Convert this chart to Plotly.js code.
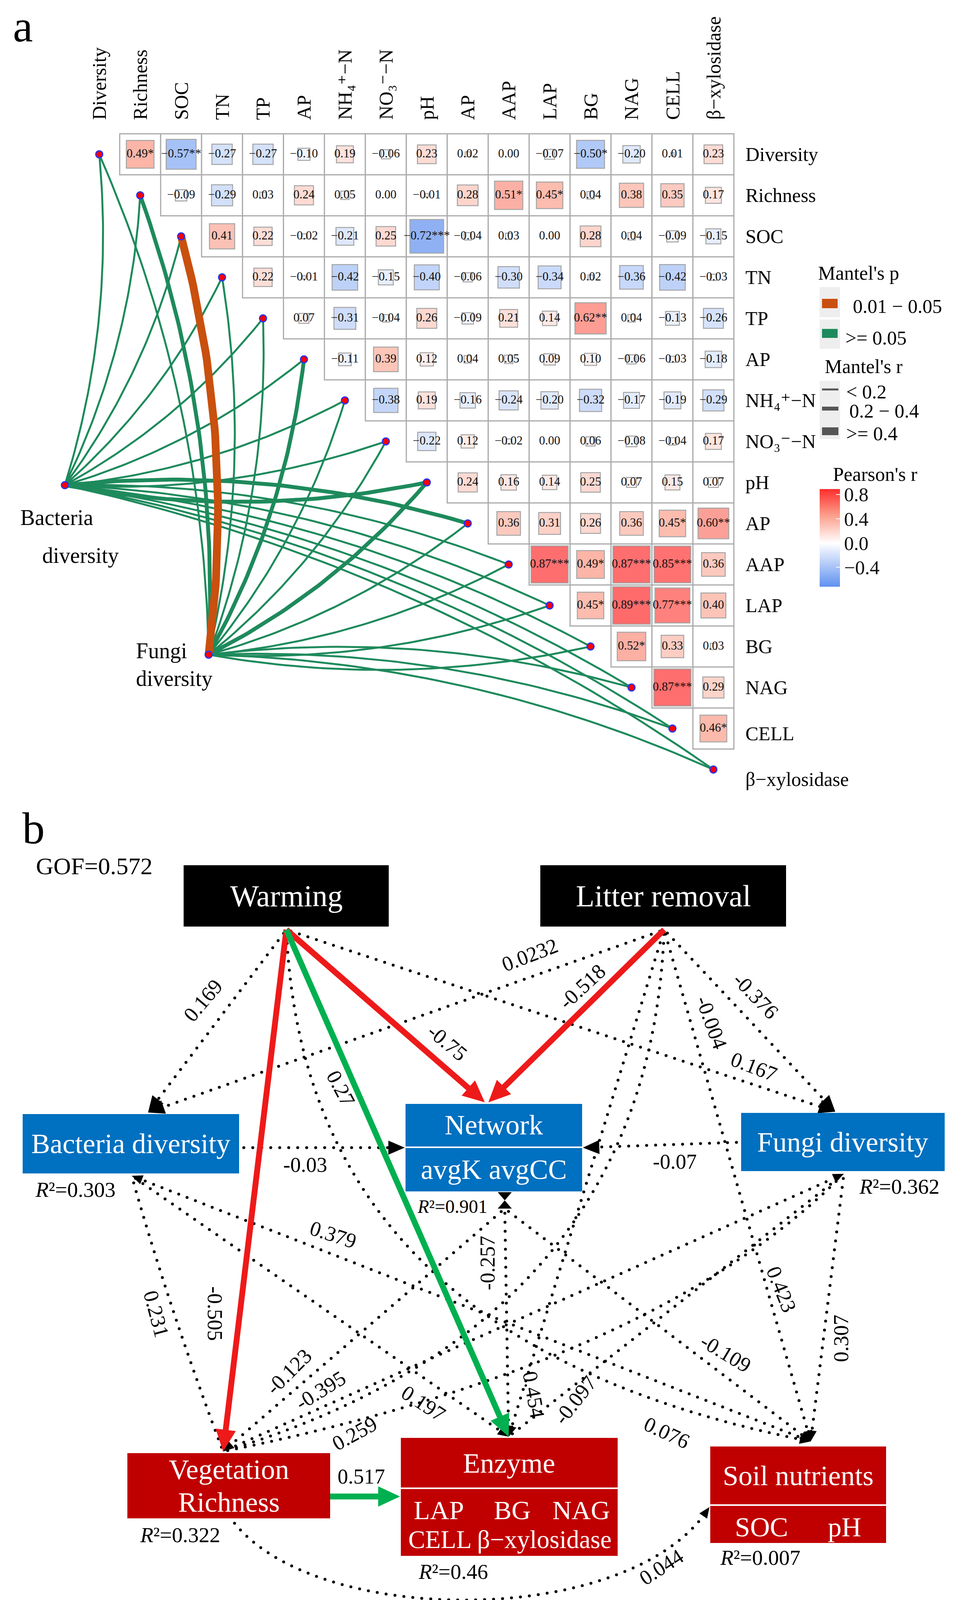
<!DOCTYPE html>
<html>
<head>
<meta charset="utf-8">
<script src="https://cdn.plot.ly/plotly-3.0.1.min.js"></script>
<style>html,body{margin:0;padding:0;background:#ffffff;}#chart{width:2447px;height:4146px;}</style>
</head>
<body>
<div id="chart"></div>
<script>
// ======================= DATA =======================
// (a) variables on the diagonal of the correlation triangle
const variables = ['Diversity','Richness','SOC','TN','TP','AP','NH₄⁺−N','NO₃⁻−N','pH','AP','AAP','LAP','BG','NAG','CELL','β−xylosidase'];
// Pearson's r, row j holds columns j+1 ... 15
const corrRows = [
  [0.49,-0.57,-0.27,-0.27,-0.10,0.19,-0.06,0.23,0.02,0.00,-0.07,-0.50,-0.20,0.01,0.23],
  [-0.09,-0.29,0.03,0.24,0.05,0.00,-0.01,0.28,0.51,0.45,0.04,0.38,0.35,0.17],
  [0.41,0.22,-0.02,-0.21,0.25,-0.72,-0.04,0.03,0.00,0.28,0.04,-0.09,-0.15],
  [0.22,-0.01,-0.42,-0.15,-0.40,-0.06,-0.30,-0.34,0.02,-0.36,-0.42,-0.03],
  [0.07,-0.31,-0.04,0.26,-0.09,0.21,0.14,0.62,0.04,-0.13,-0.26],
  [-0.11,0.39,0.12,0.04,0.05,0.09,0.10,-0.06,-0.03,-0.18],
  [-0.38,0.19,-0.16,-0.24,-0.20,-0.32,-0.17,-0.19,-0.29],
  [-0.22,0.12,-0.02,0.00,0.06,-0.08,-0.04,0.17],
  [0.24,0.16,0.14,0.25,0.07,0.15,0.07],
  [0.36,0.31,0.26,0.36,0.45,0.60],
  [0.87,0.49,0.87,0.85,0.36],
  [0.45,0.89,0.77,0.40],
  [0.52,0.33,0.03],
  [0.87,0.29],
  [0.46]
];
// number of significance stars for each value above
const sigRows = [
  [1,2,0,0,0,0,0,0,0,0,0,1,0,0,0],
  [0,0,0,0,0,0,0,0,1,1,0,0,0,0],
  [0,0,0,0,0,3,0,0,0,0,0,0,0],
  [0,0,0,0,0,0,0,0,0,0,0,0],
  [0,0,0,0,0,0,0,2,0,0,0],
  [0,0,0,0,0,0,0,0,0,0],
  [0,0,0,0,0,0,0,0,0],
  [0,0,0,0,0,0,0,0],
  [0,0,0,0,0,0,0],
  [0,0,0,0,1,2],
  [3,1,3,3,0],
  [1,3,3,0],
  [1,0,0],
  [3,0],
  [1]
];
// Mantel tests (class indices): r: 0 '< 0.2', 1 '0.2 - 0.4', 2 '>= 0.4'; p: 0 '0.01 - 0.05', 1 '>= 0.05'
const mantelSources = ['Bacteria diversity','Fungi diversity'];
const mantelRLabels = ['< 0.2','0.2 − 0.4','>= 0.4'];
const mantelPLabels = ['0.01 − 0.05','>= 0.05'];
const mantelBacteriaR = [0,0,0,0,0,0,0,0,1,1,0,0,0,0,0,0];
const mantelBacteriaP = [1,1,1,1,1,1,1,1,1,1,1,1,1,1,1,1];
const mantelFungiR    = [0,1,2,0,0,1,0,0,1,0,0,0,0,0,0,0];
const mantelFungiP    = [1,1,0,1,1,1,1,1,1,1,1,1,1,1,1,1];

// (b) structural equation model
const semNodes = ['Warming','Litter removal','Bacteria diversity','Network','Fungi diversity','Vegetation Richness','Enzyme','Soil nutrients'];
const semR2 = [null,null,0.303,0.901,0.362,0.322,0.46,0.007];
const GOF = 0.572;
const pathCoef = [-0.75,-0.518,0.27,-0.505,0.517,0.169,0.0232,0.167,-0.376,-0.03,-0.07,-0.257,0.231,0.379,0.197,0.076,0.423,0.454,-0.004,0.307,-0.395,0.259,-0.097,-0.123,-0.109,0.044];
const pathSig  = [1,1,1,1,1,0,0,0,0,0,0,0,0,0,0,0,0,0,0,0,0,0,0,0,0,0];

// ======================= STYLE / LAYOUT =======================
const FONT = '"Liberation Serif","Times New Roman","DejaVu Serif",serif';
const W_PX = 2447, H_PX = 4146;
const GA = {x0: 254, dx: 104.8, y0: 395, dy: 105};
const toU = px => (px - GA.x0) / GA.dx;
const toV = py => (py - GA.y0) / GA.dy;
const SRC_PX = [[166,1242],[534,1676]];
const MANTEL_W = [5, 10, 20];
const MANTEL_COL = ['#C9500E','#1E8A5C'];
const ROW_NUDGE = {14: 13, 15: 25};

const traces = [], shapes = [], annotations = [];
function ann(text, x, y, o) {
  annotations.push(Object.assign({text: text, x: x, y: y, xref: 'x', yref: 'y', showarrow: false,
    font: {family: FONT, size: 50, color: '#000'}, xanchor: 'center', yanchor: 'middle'}, o || {}));
}
function bez(pts, t) {
  let p = pts.map(q => q.slice());
  while (p.length > 1) {
    const n = [];
    for (let i = 0; i < p.length - 1; i++) n.push([p[i][0] + (p[i+1][0]-p[i][0])*t, p[i][1] + (p[i+1][1]-p[i][1])*t]);
    p = n;
  }
  return p[0];
}
function sample(pts, n) { const o = []; for (let k = 0; k <= n; k++) o.push(bez(pts, k/n)); return o; }
function cumLen(poly) { const c = [0]; for (let i = 1; i < poly.length; i++) c.push(c[i-1] + Math.hypot(poly[i][0]-poly[i-1][0], poly[i][1]-poly[i-1][1])); return c; }
function pointAt(poly, cum, s) {
  let i = 1; while (i < poly.length - 1 && cum[i] < s) i++;
  const seg = (cum[i] - cum[i-1]) || 1, t = (s - cum[i-1]) / seg;
  return [poly[i-1][0] + (poly[i][0]-poly[i-1][0])*t, poly[i-1][1] + (poly[i][1]-poly[i-1][1])*t];
}

// ---------------- (a) correlation triangle ----------------
const allVals = [].concat.apply([], corrRows);
const cmin = Math.min.apply(null, allVals), cmax = Math.max.apply(null, allVals);
const z0 = (0 - cmin) / (cmax - cmin);
const zMidPos = (0.45 - cmin) / (cmax - cmin);
const PEARSON_SCALE = [[0,'rgb(96,145,240)'],[z0,'rgb(255,255,255)'],[zMidPos,'rgb(251,160,140)'],[1,'rgb(255,45,45)']];

const sqX = [], sqY = [], sqS = [], sqC = [], tX = [], tY = [], tT = [];
corrRows.forEach((row, j) => row.forEach((v, k) => {
  const i = j + 1 + k;
  shapes.push({type: 'rect', xref: 'x2', yref: 'y2', x0: i - 0.5, x1: i + 0.5, y0: j - 0.5, y1: j + 0.5,
    line: {color: '#ababab', width: 3}, fillcolor: '#ffffff', layer: 'below'});
  if (Math.abs(v) > 0.005) { sqX.push(i); sqY.push(j); sqS.push(104 * Math.sqrt(Math.abs(v)) - 2); sqC.push(v); }
  const s = (v < 0 ? '−' : '') + Math.abs(v).toFixed(2) + '*'.repeat(sigRows[j][k]);
  tX.push(i); tY.push(j); tT.push(s);
}));

// Mantel links
const groups = {};
function addLink(src, j, r, p) {
  const s = SRC_PX[src], e = [GA.x0 + GA.dx * j, GA.y0 + GA.dy * j];
  const dxv = e[0]-s[0], dyv = e[1]-s[1], L = Math.hypot(dxv, dyv);
  const sign = e[1] < s[1] ? 1 : -1, k = 0.1;
  const c = [(s[0]+e[0])/2 + sign*(-dyv/L)*k*L, (s[1]+e[1])/2 + sign*(dxv/L)*k*L];
  const pts = sample([s, c, e], 50);
  const key = r + '_' + p;
  if (!groups[key]) groups[key] = {r: r, p: p, x: [], y: []};
  pts.forEach(q => { groups[key].x.push(toU(q[0])); groups[key].y.push(toV(q[1])); });
  groups[key].x.push(null); groups[key].y.push(null);
}
variables.forEach((v, j) => {
  addLink(0, j, mantelBacteriaR[j], mantelBacteriaP[j]);
  addLink(1, j, mantelFungiR[j], mantelFungiP[j]);
});
Object.values(groups).sort((a, b) => (a.r - b.r) || (b.p - a.p)).forEach(g => {
  traces.push({type: 'scatter', mode: 'lines', xaxis: 'x2', yaxis: 'y2', x: g.x, y: g.y, connectgaps: false,
    line: {color: MANTEL_COL[g.p], width: MANTEL_W[g.r]}, hoverinfo: 'skip', showlegend: false});
});

traces.push({type: 'scatter', mode: 'markers', xaxis: 'x2', yaxis: 'y2', x: sqX, y: sqY, hoverinfo: 'skip', showlegend: false,
  marker: {symbol: 'square', size: sqS, color: sqC, cmin: cmin, cmax: cmax, colorscale: PEARSON_SCALE,
    line: {color: '#808080', width: 2.5}, showscale: true,
    colorbar: {x: 2098 / W_PX, xanchor: 'left', xref: 'paper', y: 1 - 1377 / H_PX, yanchor: 'middle', yref: 'paper',
      len: 250, lenmode: 'pixels', thickness: 52, thicknessmode: 'pixels', outlinewidth: 0, xpad: 0, ypad: 0,
      tickvals: [-0.4, 0, 0.4, 0.8], ticktext: ['−0.4','0.0','0.4','0.8'], ticks: 'inside', ticklen: 10,
      tickcolor: '#ffffff', tickwidth: 2, tickfont: {family: FONT, size: 50, color: '#111'}}}});
traces.push({type: 'scatter', mode: 'text', xaxis: 'x2', yaxis: 'y2', x: tX, y: tY, text: tT, hoverinfo: 'skip', showlegend: false,
  textposition: 'middle center', textfont: {family: FONT, size: 31, color: '#111'}});
// diagonal nodes and source nodes
traces.push({type: 'scatter', mode: 'markers', xaxis: 'x2', yaxis: 'y2',
  x: variables.map((v, j) => j).concat(SRC_PX.map(p => toU(p[0]))),
  y: variables.map((v, j) => j).concat(SRC_PX.map(p => toV(p[1]))),
  marker: {symbol: 'circle', size: 18, color: '#ff0000', line: {color: '#2233ff', width: 3}}, hoverinfo: 'skip', showlegend: false});

// axis labels
variables.forEach((v, j) => {
  annotations.push({text: v, x: j, xref: 'x2', y: 309, yref: 'y', textangle: -90, showarrow: false,
    xanchor: 'center', yanchor: 'bottom', font: {family: FONT, size: 50, color: '#000'}});
  annotations.push({text: v, x: 1906, xref: 'x', y: j + (ROW_NUDGE[j] || 0) / GA.dy, yref: 'y2', showarrow: false,
    xanchor: 'left', yanchor: 'middle', font: {family: FONT, size: 50, color: '#000'}});
});
ann('a', 31, 2, {xanchor: 'left', yanchor: 'top', font: {family: FONT, size: 115, color: '#000'}});
ann('Bacteria', 50, 1325, {xanchor: 'left', font: {family: FONT, size: 56, color: '#000'}});
ann('diversity', 106, 1422, {xanchor: 'left', font: {family: FONT, size: 56, color: '#000'}});
ann('Fungi', 346, 1666, {xanchor: 'left', font: {family: FONT, size: 56, color: '#000'}});
ann('diversity', 346, 1737, {xanchor: 'left', font: {family: FONT, size: 56, color: '#000'}});

// legends of (a)
function rect(x0, x1, y0, y1, fill, o) { shapes.push(Object.assign({type: 'rect', xref: 'x', yref: 'y', x0: x0, x1: x1, y0: y0, y1: y1, fillcolor: fill, line: {width: 0}, layer: 'above'}, o || {})); }
ann("Mantel's p", 2092, 699, {xanchor: 'left'});
rect(2098, 2150, 735, 812, '#eeeeee'); rect(2104, 2144, 765, 789, MANTEL_COL[0]);
ann(mantelPLabels[0], 2181, 784, {xanchor: 'left'});
rect(2098, 2150, 818, 893, '#eeeeee'); rect(2104, 2144, 842, 865, MANTEL_COL[1]);
ann(mantelPLabels[1], 2162, 865, {xanchor: 'left'});
ann("Mantel's r", 2109, 938, {xanchor: 'left'});
rect(2098, 2150, 975, 1124, '#eeeeee');
[[997, 0, 2164], [1046, 1, 2172], [1104, 2, 2164]].forEach(a => {
  const w = MANTEL_W[a[1]];
  rect(2104, 2146, a[0] - w/2, a[0] + w/2, '#555555');
  ann(mantelRLabels[a[1]], a[2], a[0] + 6, {xanchor: 'left'});
});
ann("Pearson's r", 2130, 1214, {xanchor: 'left'});

// ---------------- (b) SEM diagram ----------------
const BLUE = '#0070C0', DRED = '#C00000', RED = '#EE1A1A', GREEN = '#00B050';
const BOX = [
  {x0: 470, x1: 995, y0: 2215, y1: 2372, fill: '#000000'},
  {x0: 1383, x1: 2012, y0: 2215, y1: 2372, fill: '#000000'},
  {x0: 58, x1: 612, y0: 2852, y1: 3004, fill: BLUE},
  {x0: 1038, x1: 1490, y0: 2826, y1: 3050, fill: BLUE, div: 2937},
  {x0: 1897, x1: 2418, y0: 2849, y1: 2998, fill: BLUE},
  {x0: 326, x1: 845, y0: 3720, y1: 3887, fill: DRED},
  {x0: 1026, x1: 1581, y0: 3681, y1: 3983, fill: DRED, div: 3810},
  {x0: 1818, x1: 2268, y0: 3703, y1: 3950, fill: DRED, div: 3853}
];
BOX.forEach(b => {
  rect(b.x0, b.x1, b.y0, b.y1, b.fill);
  if (b.div) shapes.push({type: 'line', xref: 'x', yref: 'y', x0: b.x0, x1: b.x1, y0: b.div, y1: b.div, line: {color: '#ffffff', width: 4}, layer: 'above'});
});
const WF = sz => ({family: FONT, size: sz, color: '#ffffff'});
// box texts (node names)
ann(semNodes[0], 733, 2293, {font: WF(78)});
ann(semNodes[1], 1698, 2293, {font: WF(78)});
ann(semNodes[2], 335, 2928, {font: WF(72)});
ann(semNodes[3], 1264, 2880, {font: WF(72)});
ann('avgK avgCC', 1264, 2994, {font: WF(72)});
ann(semNodes[4], 2157, 2924, {font: WF(72)});
ann(semNodes[5].split(' ')[0], 586, 3762, {font: WF(72)});
ann(semNodes[5].split(' ')[1], 586, 3846, {font: WF(72)});
ann(semNodes[6], 1303, 3746, {font: WF(72)});
ann('LAP', 1123, 3866, {font: WF(68)});
ann('BG', 1311, 3866, {font: WF(68)});
ann('NAG', 1487, 3866, {font: WF(68)});
ann('CELL β−xylosidase', 1305, 3941, {font: WF(65)});
ann(semNodes[7], 2043, 3778, {font: WF(72)});
ann('SOC', 1949, 3909, {font: WF(70)});
ann('pH', 2162, 3909, {font: WF(70)});
// R2
const R2POS = [null, null, [88, 3045, 55], [1066, 3088, 48], [2197, 3037, 55], [356, 3929, 55], [1069, 4023, 55], [1841, 3987, 55]];
semR2.forEach((r, i) => {
  if (r === null) return;
  const p = R2POS[i];
  ann('<i>R</i>²=' + String(r), p[0], p[1], {xanchor: 'left', font: {family: FONT, size: p[2], color: '#000'}});
});
ann('GOF=' + String(GOF), 90, 2217, {xanchor: 'left', font: {family: FONT, size: 62, color: '#000'}});
ann('b', 55, 2120, {xanchor: 'left', font: {family: FONT, size: 115, color: '#000'}});

const ANCH = {
  W: [733, 2380], L: [1700, 2380], Btop: [379, 2848], Bbot: [337, 3010], Bright: [612, 2938],
  Nleft: [1036, 2938], Nright: [1492, 2938], NtopA: [1241, 2822], NtopB: [1250, 2822], Nbot: [1292, 3094],
  Ftop: [2138, 2846], Fbot: [2160, 3005], Fleft: [1897, 2924], Vtop: [571, 3716], Vright: [845, 3831],
  Vbot: [593, 3890], Etop: [1302, 3678], Eleft: [1024, 3831], Stop: [2075, 3690], Sleft: [1816, 3858]
};
// geometry of each path (same order as pathCoef)
const pathGeom = [
  {s: 'W', e: 'NtopA', lab: [1145, 2669, 40]},
  {s: 'L', e: 'NtopB', lab: [1490, 2526, -43]},
  {s: 'W', e: 'Etop', lab: [872, 2786, 62]},
  {s: 'W', e: 'Vtop', lab: [550, 3362, 90]},
  {s: 'Vright', e: 'Eleft', lab: [925, 3780, 0]},
  {s: 'W', e: 'Btop', lab: [520, 2561, -50], head: 'big'},
  {s: 'L', e: 'Btop', lab: [1356, 2445, -21], head: 'big'},
  {s: 'W', e: 'Ftop', lab: [1930, 2731, 21], head: 'big'},
  {s: 'L', e: 'Ftop', lab: [1934, 2549, 46], head: 'big'},
  {s: 'Bright', e: 'Nleft', lab: [781, 2982, 0], head: 'big'},
  {s: 'Fleft', e: 'Nright', lab: [1727, 2974, 0], head: 'big'},
  {s: 'Nbot', e: 'Etop', lab: [1248, 3234, -90], head: 'small'},
  {s: 'Vtop', e: 'Bbot', c: [[430, 3340]], lab: [400, 3364, 75]},
  {s: 'Stop', e: 'Bbot', lab: [853, 3161, 18], head: 'small'},
  {s: 'Bbot', e: 'Etop', lab: [1084, 3593, 33], head: 'small'},
  {s: 'W', e: 'Stop', c: [[760, 3000], [1100, 3500]], lab: [1707, 3668, 25], head: 'small'},
  {s: 'L', e: 'Stop', lab: [2000, 3301, 68], head: 'small'},
  {s: 'L', e: 'Etop', lab: [1366, 3571, 80], head: 'small'},
  {s: 'L', e: 'Vtop', c: [[1663, 3388]], lab: [1821, 2617, 70]},
  {s: 'Fbot', e: 'Stop', lab: [2153, 3426, -90], head: 'small'},
  {s: 'Vtop', e: 'Fbot', lab: [820, 3560, -32], head: 'small'},
  {s: 'Vtop', e: 'Fbot', c: [[1675, 3493]], lab: [908, 3670, -29]},
  {s: 'Etop', e: 'Fbot', lab: [1472, 3585, -52]},
  {s: 'Nbot', e: 'Vtop', lab: [739, 3512, -45], head: 'small'},
  {s: 'Nbot', e: 'Stop', lab: [1857, 3464, 31], head: 'small'},
  {s: 'Vbot', e: 'Sleft', c: [[800, 4170], [1620, 4170]], lab: [1693, 4012, -33], head: 'small'}
];
const HEAD = {big: [42, 36], small: [28, 24], solid: [56, 52]};
const dotX = [], dotY = [];
const heads = {black: {x: [], y: []}, red: {x: [], y: []}, green: {x: [], y: []}};
const solid = {red: {x: [], y: []}, green: {x: [], y: []}};
function pushHead(col, poly) { poly.forEach(p => { heads[col].x.push(p[0]); heads[col].y.push(p[1]); }); heads[col].x.push(null); heads[col].y.push(null); }
function headPoly(tip, back, len, wid) {
  const dx = tip[0]-back[0], dy = tip[1]-back[1], L = Math.hypot(dx, dy) || 1, ux = dx/L, uy = dy/L;
  const bx = tip[0]-ux*len, by = tip[1]-uy*len, nx = -uy, ny = ux;
  return [tip, [bx+nx*wid/2, by+ny*wid/2], [bx-nx*wid/2, by-ny*wid/2], tip];
}
pathCoef.forEach((coef, i) => {
  const g = pathGeom[i];
  const pts = [ANCH[g.s]].concat(g.c || []).concat([ANCH[g.e]]);
  const poly = sample(pts, g.c ? 120 : 2);
  const cum = cumLen(poly), total = cum[cum.length - 1];
  const tip = poly[poly.length - 1];
  if (pathSig[i]) {
    const col = coef < 0 ? 'red' : 'green';
    const hs = HEAD.solid;
    const endP = pointAt(poly, cum, total - hs[0] * 0.6);
    solid[col].x.push(poly[0][0], endP[0], null); solid[col].y.push(poly[0][1], endP[1], null);
    pushHead(col, headPoly(tip, pointAt(poly, cum, total - hs[0]), hs[0], hs[1]));
  } else {
    const trim = g.head ? HEAD[g.head][0] : 8;
    for (let s = 12; s <= total - trim; s += 23) { const p = pointAt(poly, cum, s); dotX.push(p[0]); dotY.push(p[1]); }
    if (g.head) { const h = HEAD[g.head]; pushHead('black', headPoly(tip, pointAt(poly, cum, total - h[0]), h[0], h[1])); }
  }
  ann(String(coef), g.lab[0], g.lab[1], {textangle: g.lab[2], font: {family: FONT, size: 54, color: '#000'}});
});
// hourglass mark below Network
pushHead('black', [[1292, 3073], [1274, 3052], [1310, 3052], [1292, 3073]]);
pushHead('black', [[1292, 3073], [1274, 3094], [1310, 3094], [1292, 3073]]);

traces.push({type: 'scatter', mode: 'markers', x: dotX, y: dotY, marker: {size: 7.5, color: '#000000'}, hoverinfo: 'skip', showlegend: false});
[['red', RED], ['green', GREEN]].forEach(c => traces.push({type: 'scatter', mode: 'lines', x: solid[c[0]].x, y: solid[c[0]].y, connectgaps: false,
  line: {color: c[1], width: 15}, hoverinfo: 'skip', showlegend: false}));
[['black', '#000000'], ['red', RED], ['green', GREEN]].forEach(c => traces.push({type: 'scatter', mode: 'lines', x: heads[c[0]].x, y: heads[c[0]].y,
  fill: 'toself', fillcolor: c[1], line: {width: 0, color: c[1]}, connectgaps: false, hoverinfo: 'skip', showlegend: false}));

const layout = {
  width: W_PX, height: H_PX, autosize: false, margin: {l: 0, r: 0, t: 0, b: 0, pad: 0},
  paper_bgcolor: '#ffffff', plot_bgcolor: 'rgba(0,0,0,0)', showlegend: false,
  xaxis: {range: [0, W_PX], visible: false, fixedrange: true, domain: [0, 1]},
  yaxis: {range: [H_PX, 0], visible: false, fixedrange: true, domain: [0, 1]},
  xaxis2: {range: [toU(0), toU(W_PX)], overlaying: 'x', visible: false, fixedrange: true},
  yaxis2: {range: [toV(H_PX), toV(0)], overlaying: 'y', visible: false, fixedrange: true},
  shapes: shapes, annotations: annotations
};
Plotly.newPlot('chart', traces, layout, {staticPlot: true, displayModeBar: false});
</script>
</body>
</html>
